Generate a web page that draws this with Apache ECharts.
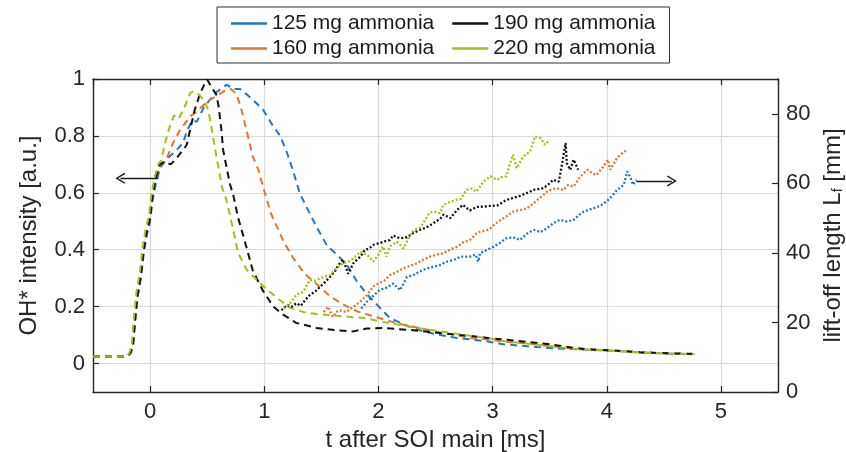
<!DOCTYPE html>
<html>
<head>
<meta charset="utf-8">
<script src="https://cdn.jsdelivr.net/npm/echarts@6/dist/echarts.min.js"></script>
<style>
html,body{margin:0;padding:0;background:#fff;}
#chart{width:846px;height:452px;}
</style>
</head>
<body>
<div id="chart"></div>
<script>
// ---------- DATA ----------
const seriesNames = ['125 mg ammonia', '160 mg ammonia', '190 mg ammonia', '220 mg ammonia'];
const legendRow1 = ['125 mg ammonia', '190 mg ammonia'];
const legendRow2 = ['160 mg ammonia', '220 mg ammonia'];

// OH* intensity [a.u.] vs t [ms] (left axis, dashed)
const oh125 = [[-0.5,0.025],[-0.2,0.025],[-0.17,0.035],[-0.15,0.06],[-0.13,0.15],[-0.11,0.23],[-0.08,0.30],[-0.055,0.39],[-0.03,0.45],[0,0.50],[0.02,0.57],[0.05,0.63],[0.09,0.69],[0.15,0.72],[0.23,0.75],[0.29,0.775],[0.32,0.815],[0.37,0.855],[0.41,0.85],[0.47,0.90],[0.57,0.95],[0.67,0.98],[0.73,0.965],[0.79,0.965],[0.9,0.927],[0.99,0.892],[1.08,0.833],[1.14,0.80],[1.2,0.74],[1.25,0.68],[1.31,0.60],[1.37,0.55],[1.46,0.479],[1.55,0.414],[1.63,0.385],[1.72,0.349],[1.81,0.29],[1.9,0.243],[1.985,0.208],[2.1,0.16],[2.25,0.133],[2.39,0.113],[2.54,0.10],[2.69,0.09],[2.95,0.078],[3.09,0.068],[3.39,0.058],[3.56,0.053],[3.85,0.048],[4.06,0.045],[4.29,0.039],[4.53,0.035],[4.75,0.033]];
const oh160 = [[-0.5,0.025],[-0.2,0.025],[-0.17,0.04],[-0.15,0.07],[-0.13,0.16],[-0.11,0.24],[-0.08,0.31],[-0.055,0.40],[-0.03,0.46],[0,0.51],[0.02,0.58],[0.05,0.645],[0.09,0.70],[0.14,0.715],[0.2,0.774],[0.26,0.82],[0.35,0.868],[0.42,0.89],[0.5,0.92],[0.58,0.94],[0.65,0.958],[0.71,0.965],[0.76,0.945],[0.8,0.892],[0.845,0.82],[0.9,0.727],[0.95,0.68],[0.99,0.62],[1.06,0.526],[1.166,0.432],[1.25,0.373],[1.356,0.314],[1.46,0.279],[1.575,0.237],[1.69,0.208],[1.81,0.184],[1.955,0.166],[2.1,0.149],[2.25,0.133],[2.36,0.125],[2.51,0.111],[2.66,0.102],[2.8,0.09],[2.98,0.084],[3.12,0.076],[3.27,0.072],[3.53,0.06],[3.71,0.052],[3.85,0.048],[4.06,0.045],[4.29,0.039],[4.53,0.035],[4.75,0.033]];
const oh190 = [[-0.5,0.025],[-0.2,0.025],[-0.17,0.04],[-0.15,0.065],[-0.13,0.16],[-0.11,0.24],[-0.08,0.31],[-0.055,0.40],[-0.03,0.46],[0,0.51],[0.02,0.585],[0.05,0.65],[0.085,0.70],[0.13,0.71],[0.18,0.70],[0.23,0.72],[0.32,0.768],[0.35,0.82],[0.39,0.89],[0.435,0.945],[0.48,0.986],[0.5,0.998],[0.54,0.97],[0.58,0.945],[0.6,0.904],[0.625,0.82],[0.64,0.75],[0.67,0.69],[0.7,0.63],[0.73,0.59],[0.77,0.514],[0.845,0.408],[0.9,0.326],[0.99,0.255],[1.08,0.20],[1.166,0.172],[1.28,0.143],[1.46,0.125],[1.63,0.117],[1.78,0.113],[1.9,0.123],[2.04,0.125],[2.25,0.119],[2.54,0.107],[2.83,0.096],[3.0,0.088],[3.21,0.08],[3.5,0.068],[3.71,0.055],[3.85,0.05],[4.06,0.046],[4.29,0.04],[4.53,0.036],[4.75,0.034]];
const oh220 = [[-0.5,0.025],[-0.2,0.025],[-0.18,0.04],[-0.16,0.07],[-0.14,0.17],[-0.12,0.25],[-0.09,0.32],[-0.065,0.41],[-0.04,0.47],[-0.01,0.52],[0.01,0.59],[0.04,0.655],[0.07,0.70],[0.10,0.715],[0.13,0.774],[0.17,0.83],[0.21,0.872],[0.25,0.86],[0.3,0.9],[0.35,0.95],[0.38,0.957],[0.43,0.945],[0.48,0.92],[0.51,0.89],[0.55,0.80],[0.58,0.73],[0.63,0.62],[0.67,0.573],[0.73,0.467],[0.77,0.39],[0.845,0.33],[0.93,0.296],[1.005,0.267],[1.11,0.231],[1.225,0.196],[1.37,0.178],[1.52,0.172],[1.69,0.166],[1.87,0.16],[2.01,0.149],[2.25,0.131],[2.54,0.113],[2.83,0.096],[2.98,0.088],[3.12,0.077],[3.27,0.072],[3.53,0.06],[3.71,0.052],[3.85,0.048],[4.06,0.045],[4.29,0.039],[4.53,0.035],[4.77,0.033]];

// lift-off length L_f [mm] vs t [ms] (right axis, dotted)
const lf125 = [[1.85,24],[1.9,26],[1.95,27.5],[2.01,29.3],[2.07,30],[2.13,31.2],[2.19,29.3],[2.25,33.1],[2.3,33.5],[2.36,34.6],[2.42,35.5],[2.48,36],[2.54,36.5],[2.6,37.5],[2.66,38],[2.72,38.9],[2.8,38.9],[2.85,39.5],[2.875,37.5],[2.89,39.9],[2.96,41],[3.01,41.8],[3.07,43],[3.12,44.2],[3.18,44.5],[3.24,43.7],[3.3,45.5],[3.36,46.6],[3.42,46],[3.475,47.1],[3.53,48.5],[3.59,49.5],[3.65,49],[3.71,49.5],[3.76,51],[3.8,51.9],[3.88,52.8],[3.94,53.5],[4.0,54.8],[4.05,56.5],[4.09,58.1],[4.15,59.6],[4.18,63.4],[4.21,61.5],[4.23,59.6],[4.26,61]];
const lf160 = [[1.52,23],[1.56,24.5],[1.6,21.6],[1.63,23],[1.66,23.5],[1.72,23],[1.78,24.5],[1.84,25.9],[1.9,27.9],[1.955,30.3],[2.0,31.2],[2.05,32],[2.1,33.6],[2.16,34.5],[2.22,35.6],[2.28,36.3],[2.335,37],[2.39,38],[2.45,38.9],[2.51,39.5],[2.57,39.9],[2.63,41],[2.69,41.8],[2.74,43],[2.8,43.7],[2.86,45.6],[2.89,46.1],[2.95,46.5],[2.98,47.1],[3.03,48.5],[3.07,49.5],[3.12,50.5],[3.18,51.9],[3.24,52.3],[3.3,52.8],[3.35,54],[3.39,55.2],[3.44,56.5],[3.475,57.6],[3.52,58.3],[3.56,58.6],[3.62,58.1],[3.66,59.5],[3.71,59.1],[3.77,62],[3.83,63.9],[3.87,63],[3.91,62.4],[3.97,64.8],[4.01,66.8],[4.03,63.9],[4.09,67.3],[4.13,68.5],[4.18,69.7]];
const lf190 = [[1.15,23.5],[1.2,25],[1.24,24.5],[1.28,25.5],[1.32,24.8],[1.36,26.5],[1.4,27.9],[1.45,29],[1.49,30.3],[1.53,31.5],[1.575,33.1],[1.62,34.8],[1.65,36.5],[1.69,38],[1.72,35.5],[1.735,34],[1.78,37],[1.84,38.9],[1.88,40.8],[1.92,41.3],[1.955,42.3],[2.01,42.8],[2.07,43.5],[2.1,43.7],[2.13,45],[2.19,44.2],[2.25,44.5],[2.3,45.6],[2.36,46.6],[2.42,47.3],[2.48,48.5],[2.54,49.8],[2.57,51],[2.63,50],[2.69,52.4],[2.74,53.8],[2.8,52.2],[2.86,53.2],[2.92,53.3],[2.98,53.5],[3.04,53.6],[3.09,54.6],[3.12,55.2],[3.18,55.8],[3.24,56.4],[3.3,57.2],[3.36,58.1],[3.41,58.4],[3.445,58.6],[3.5,60],[3.53,61],[3.58,60.5],[3.61,65.8],[3.64,71.6],[3.65,65.8],[3.68,63.9],[3.71,66.8],[3.75,63.9]];
const lf220 = [[1.17,24],[1.225,25.5],[1.28,27.9],[1.34,28.8],[1.4,32.2],[1.45,32],[1.49,32.7],[1.53,33.2],[1.575,33.6],[1.63,35.5],[1.69,37],[1.74,37.5],[1.78,38.4],[1.84,40.3],[1.9,39.5],[1.955,37.5],[2.0,39.5],[2.04,41.8],[2.07,38.9],[2.1,41.8],[2.16,43.2],[2.22,41.3],[2.28,45.2],[2.31,46.6],[2.36,47.1],[2.39,48.5],[2.45,51.6],[2.5,51.8],[2.54,51.4],[2.57,53.8],[2.63,54.7],[2.68,55.2],[2.72,55.5],[2.77,58.1],[2.82,58.5],[2.86,57.6],[2.92,60.5],[2.98,62],[3.04,61],[3.08,61.8],[3.12,62],[3.15,65.5],[3.18,68.2],[3.21,64.4],[3.27,67.7],[3.33,69.2],[3.37,73.5],[3.42,73],[3.46,71.1],[3.5,72.5]];

// annotation arrows (data coordinates)
const arrowLeftAxis = [[0.07, 0.651], [-0.26, 0.651]];
const arrowRightAxis = [[4.26, 60.7], [4.57, 60.7]];

// axis ranges
const xRange = [-0.5, 5.5];
const yLeftRange = [-0.1, 1];
const yRightRange = [0, 90];

// ---------- STYLE ----------
const colors = ['#1f77c9', '#e5742f', '#111111', '#a5be1a'];
const FONT = '"Liberation Sans", Arial, Helvetica, sans-serif';
const AX = '#262626';
const ohData = [oh125, oh160, oh190, oh220];
const lfData = [lf125, lf160, lf190, lf220];
const chevron = 'path://M0,0 L7,11 L5.6,12 L0,3.2 L-5.6,12 L-7,11 Z';

const series = [];
seriesNames.forEach((n, i) => {
  series.push({
    name: n, type: 'line', xAxisIndex: 0, yAxisIndex: 0, data: ohData[i],
    showSymbol: false, symbol: 'none', animation: false, silent: true,
    itemStyle: { color: colors[i] },
    lineStyle: { color: colors[i], width: 2, type: [7, 5] }
  });
});
seriesNames.forEach((n, i) => {
  series.push({
    name: n, type: 'line', xAxisIndex: 0, yAxisIndex: 1, data: lfData[i],
    showSymbol: false, symbol: 'none', animation: false, silent: true,
    itemStyle: { color: colors[i] },
    lineStyle: { color: colors[i], width: 2.3, type: [2, 2] }
  });
});
function arrowSeries(yIdx, pts) {
  return {
    name: 'arrow' + yIdx, type: 'line', xAxisIndex: 0, yAxisIndex: yIdx, data: [],
    animation: false, silent: true,
    markLine: {
      silent: true, animation: false,
      symbol: ['none', chevron], symbolSize: [11, 10],
      label: { show: false },
      lineStyle: { color: '#1a1a1a', width: 1.3, type: 'solid' },
      data: [[{ coord: pts[0] }, { coord: pts[1] }]]
    }
  };
}
series.push(arrowSeries(0, arrowLeftAxis));
series.push(arrowSeries(1, arrowRightAxis));

const legendCommon = {
  orient: 'horizontal',
  icon: 'rect', itemWidth: 36, itemHeight: 2.5, itemGap: 18,
  itemTextGap: 3,
  selectedMode: false,
  itemStyle: { borderWidth: 0 },
  textStyle: { fontFamily: FONT, fontSize: 21, color: '#1a1a1a' }
};

const chart = echarts.init(document.getElementById('chart'), null, { renderer: 'canvas' });
chart.setOption({
  backgroundColor: '#ffffff',
  animation: false,
  textStyle: { fontFamily: FONT },
  grid: { left: 93, right: 68, top: 79, bottom: 60, containLabel: false, outerBoundsMode: 'none' },
  legend: [
    Object.assign({}, legendCommon, {
      data: legendRow1, left: 217, top: 7, z: 4,
      padding: [6, 14, 29, 14],
      borderColor: '#333333', borderWidth: 1, backgroundColor: '#ffffff'
    }),
    Object.assign({}, legendCommon, {
      data: legendRow2, left: 231, top: 38, z: 5,
      padding: 0, borderWidth: 0, backgroundColor: 'transparent'
    })
  ],
  xAxis: [
    {
      type: 'value', min: xRange[0], max: xRange[1], splitNumber: 6, position: 'bottom',
      name: 't after SOI main [ms]', nameLocation: 'middle', nameGap: 33,
      nameTextStyle: { fontFamily: FONT, fontSize: 24, color: AX },
      axisLine: { show: true, onZero: false, lineStyle: { color: AX, width: 1.4 } },
      axisTick: { show: true, inside: true, length: 6, lineStyle: { color: AX, width: 1.2 } },
      axisLabel: { show: true, margin: 9, fontFamily: FONT, fontSize: 22, color: AX, showMinLabel: false, showMaxLabel: false },
      splitLine: { show: true, lineStyle: { color: '#dadada', width: 1.2 } }
    },
    {
      type: 'value', min: xRange[0], max: xRange[1], splitNumber: 6, position: 'top',
      axisLine: { show: true, onZero: false, lineStyle: { color: AX, width: 1.4 } },
      axisTick: { show: true, inside: true, length: 6, lineStyle: { color: AX, width: 1.2 } },
      axisLabel: { show: false },
      splitLine: { show: false }
    }
  ],
  yAxis: [
    {
      type: 'value', min: yLeftRange[0], max: yLeftRange[1], splitNumber: 5, position: 'left',
      name: 'OH* intensity [a.u.]', nameLocation: 'middle', nameGap: 52, nameRotate: 90,
      nameTextStyle: { fontFamily: FONT, fontSize: 24, color: AX },
      axisLine: { show: true, onZero: false, lineStyle: { color: AX, width: 1.4 } },
      axisTick: { show: true, inside: true, length: 6, lineStyle: { color: AX, width: 1.2 } },
      axisLabel: { show: true, margin: 8, fontFamily: FONT, fontSize: 22, color: AX, showMinLabel: false },
      splitLine: { show: true, lineStyle: { color: '#dadada', width: 1.2 } }
    },
    {
      type: 'value', min: yRightRange[0], max: yRightRange[1], splitNumber: 4, position: 'right',
      name: 'lift-off length L{sub|f} [mm]', nameLocation: 'middle', nameGap: 42, nameRotate: 90,
      nameTextStyle: { fontFamily: FONT, fontSize: 24, color: AX,
        rich: { sub: { fontFamily: FONT, fontSize: 14, color: AX, verticalAlign: 'bottom', padding: [10, 0, 0, 0] } } },
      axisLine: { show: true, onZero: false, lineStyle: { color: AX, width: 1.4 } },
      axisTick: { show: true, inside: true, length: 6, lineStyle: { color: AX, width: 1.2 } },
      axisLabel: { show: true, margin: 8, fontFamily: FONT, fontSize: 22, color: AX, showMaxLabel: false },
      splitLine: { show: false }
    }
  ],
  series: series
});
</script>
</body>
</html>
